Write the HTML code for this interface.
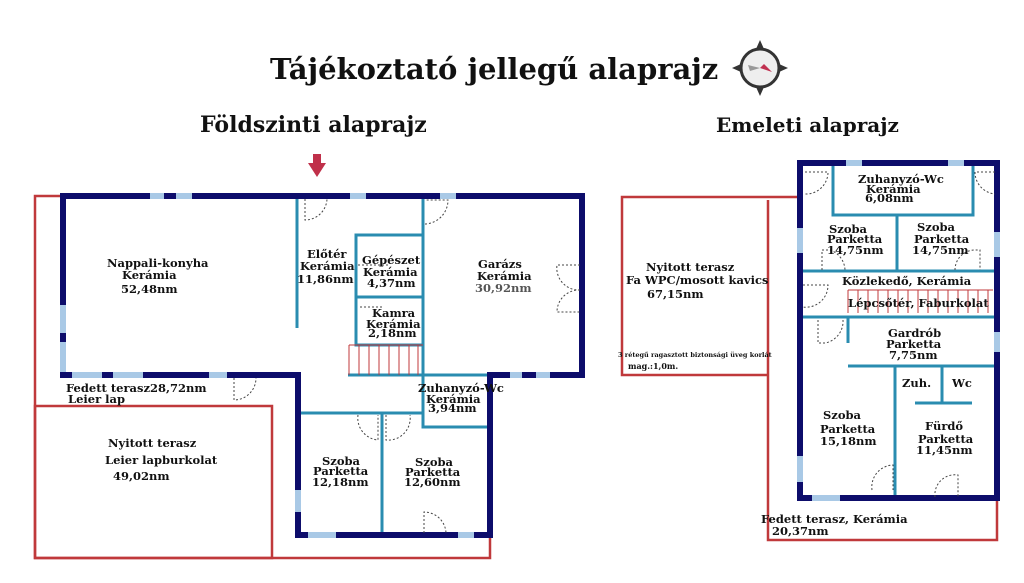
<!DOCTYPE html>
<html><head><meta charset="utf-8"><style>
html,body{margin:0;padding:0;background:#fff;width:1024px;height:583px;overflow:hidden}
svg{display:block}
text{font-family:"DejaVu Serif","Liberation Serif",serif;font-weight:bold;fill:#111}
.l{font-size:11.5px}
</style></head><body>
<svg width="1024" height="583" viewBox="0 0 1024 583" xmlns="http://www.w3.org/2000/svg">
<text x="270" y="79" style="font-size:29px">Tájékoztató jellegű alaprajz</text>
<!-- compass -->
<g transform="translate(760,68)">
<circle r="19" fill="#eee" stroke="#333" stroke-width="3"/>
<path d="M0,-28 L-4,-19 L4,-19Z M0,28 L-4,19 L4,19Z M-28,0 L-19,-4 L-19,4Z M28,0 L19,-4 L19,4Z" fill="#333"/>
<path d="M-12,-3 L0,0 L-10,3Z" fill="#999"/><path d="M12,4 L0,0 L4,-4Z" fill="#c03050"/>
</g>
<text x="200" y="132" style="font-size:22px">Földszinti alaprajz</text>
<text x="716" y="132" style="font-size:20px">Emeleti alaprajz</text>
<!-- entry arrow -->
<path d="M313,154 h8 v9 h5 l-9,14 l-9,-14 h5z" fill="#c0304a"/>

<!-- GROUND red -->
<g fill="none" stroke="#c0393b" stroke-width="2.5">
<path d="M63,196 H35 V558 H490 V535"/>
<rect x="35" y="406" width="237" height="152"/>
</g>
<!-- ground teal -->
<g fill="none" stroke="#2a8cb0" stroke-width="3">
<path d="M297,196 V328"/>
<rect x="356" y="235" width="67" height="62"/>
<rect x="356" y="297" width="67" height="48"/>
<path d="M423,196 V375"/>
<rect x="423" y="375" width="67" height="52"/>
<path d="M298,413 H423 M382,413 V535"/>
<path d="M348,375 H423"/>
</g>
<g stroke="#c0393b" stroke-width="1">
<path d="M349,345 H423 M349,345 V375 M359,345 V375 M369,345 V375 M379,345 V375 M389,345 V375 M399,345 V375 M409,345 V375 M418,345 V375"/>
</g>
<!-- ground navy -->
<g fill="none" stroke="#0d0d6b" stroke-width="6" stroke-linecap="square">
<path d="M63,196 H582 V375 H490 V535 H298 V375 H63 Z"/>
</g>
<g stroke="#a9c9e6" stroke-width="6">
<path d="M150,196 h14 M176,196 h16 M350,196 h16 M440,196 h16 M63,305 v28 M63,342 v30 M72,375 h30 M113,375 h30 M209,375 h18 M298,490 v22 M308,535 h28 M458,535 h16 M510,375 h12 M536,375 h14"/>
</g>
<g fill="none" stroke="#444" stroke-width="1" stroke-dasharray="2,2">
<path d="M305,199 V220 A22,22 0 0 0 327,199"/><path d="M425,224 A24,24 0 0 0 448,200 H425"/>
<path d="M234,378 V400 A22,22 0 0 0 256,378"/><path d="M580,265 h-23 A22,22 0 0 0 580,290 M580,290 A22,22 0 0 0 557,312 h23"/>
<path d="M358,265 h30 M358,330 h-0 M360,307 h24"/>
<path d="M358,415 A22,22 0 0 0 378,440 V415"/><path d="M386,415 V440 A22,22 0 0 0 410,415"/>
<path d="M424,533 V512 A22,22 0 0 1 446,533"/>
</g>

<text class="l" x="107" y="267">Nappali-konyha</text>
<text class="l" x="122" y="279">Kerámia</text>
<text class="l" x="121" y="293">52,48nm</text>
<text class="l" x="307" y="258">Előtér</text>
<text class="l" x="300" y="270">Kerámia</text>
<text class="l" x="297" y="283">11,86nm</text>
<text class="l" x="362" y="264">Gépészet</text>
<text class="l" x="363" y="276">Kerámia</text>
<text class="l" x="367" y="287">4,37nm</text>
<text class="l" x="372" y="317">Kamra</text>
<text class="l" x="366" y="328">Kerámia</text>
<text class="l" x="368" y="337">2,18nm</text>
<text class="l" x="478" y="268">Garázs</text>
<text class="l" x="477" y="280">Kerámia</text>
<text class="l" x="475" y="292" style="fill:#555">30,92nm</text>
<text class="l" x="66" y="392">Fedett terasz28,72nm</text>
<text class="l" x="68" y="403">Leier lap</text>
<text class="l" x="418" y="392">Zuhanyzó-Wc</text>
<text class="l" x="426" y="403">Kerámia</text>
<text class="l" x="428" y="412">3,94nm</text>
<text class="l" x="108" y="447">Nyitott terasz</text>
<text class="l" x="105" y="464">Leier lapburkolat</text>
<text class="l" x="113" y="480">49,02nm</text>
<text class="l" x="322" y="465">Szoba</text>
<text class="l" x="313" y="475">Parketta</text>
<text class="l" x="312" y="486">12,18nm</text>
<text class="l" x="415" y="466">Szoba</text>
<text class="l" x="405" y="476">Parketta</text>
<text class="l" x="404" y="486">12,60nm</text>

<!-- UPPER red -->
<g fill="none" stroke="#c0393b" stroke-width="2.5">
<path d="M800,197 H622 V375 H768"/>
<path d="M768,200 V540 H997 V500"/>
</g>
<g fill="none" stroke="#2a8cb0" stroke-width="3">
<rect x="833" y="163" width="140" height="52"/>
<path d="M897,215 V271 M800,271 H997 M800,317 H997 M848,317 V343 M848,366 H997 M895,366 V496 M942,366 V403 M915,403 H972"/>
</g>
<g stroke="#c0393b" stroke-width="1" fill="none">
<path d="M848,290 H993 M848,290 V313 M858,290 V313 M868,290 V313 M878,290 V313 M888,290 V313 M898,290 V313 M908,290 V313 M918,290 V313 M928,290 V313 M938,290 V313 M948,290 V313 M958,290 V313 M968,290 V313 M978,290 V313 M988,290 V313"/>
</g>
<g fill="none" stroke="#0d0d6b" stroke-width="6" stroke-linecap="square">
<rect x="800" y="163" width="197" height="335"/>
</g>
<g stroke="#a9c9e6" stroke-width="6">
<path d="M846,163 h16 M948,163 h16 M800,228 v25 M997,232 v25 M997,332 v20 M997,436 h0 M800,456 v26 M812,498 h28 M800,288 h0"/>
</g>
<g fill="none" stroke="#444" stroke-width="1" stroke-dasharray="2,2">
<path d="M805,172 H828 A22,22 0 0 1 805,194"/><path d="M995,172 H975 A22,22 0 0 0 995,194"/>
<path d="M822,270 V250 H830 A22,22 0 0 1 845,270"/><path d="M955,270 A20,20 0 0 1 975,250 H980 V270"/>
<path d="M803,285 H828 A22,22 0 0 1 803,307"/>
<path d="M818,320 V343 H825 A22,22 0 0 0 843,320"/>
<path d="M872,490 A22,22 0 0 1 893,465 V490"/><path d="M935,497 A20,20 0 0 1 958,475 V497"/>
</g>
<text class="l" x="858" y="183">Zuhanyzó-Wc</text>
<text class="l" x="866" y="193">Kerámia</text>
<text class="l" x="865" y="202">6,08nm</text>
<text class="l" x="829" y="233">Szoba</text>
<text class="l" x="827" y="243">Parketta</text>
<text class="l" x="827" y="254">14,75nm</text>
<text class="l" x="917" y="231">Szoba</text>
<text class="l" x="914" y="243">Parketta</text>
<text class="l" x="912" y="254">14,75nm</text>
<text class="l" x="842" y="285">Közlekedő, Kerámia</text>
<text class="l" x="848" y="307">Lépcsőtér, Faburkolat</text>
<text class="l" x="888" y="337">Gardrób</text>
<text class="l" x="886" y="348">Parketta</text>
<text class="l" x="889" y="359">7,75nm</text>
<text class="l" x="902" y="387">Zuh.</text>
<text class="l" x="952" y="387">Wc</text>
<text class="l" x="823" y="419">Szoba</text>
<text class="l" x="820" y="433">Parketta</text>
<text class="l" x="820" y="445">15,18nm</text>
<text class="l" x="925" y="430">Fürdő</text>
<text class="l" x="918" y="443">Parketta</text>
<text class="l" x="916" y="454">11,45nm</text>
<text class="l" x="646" y="271">Nyitott terasz</text>
<text class="l" x="626" y="284">Fa WPC/mosott kavics</text>
<text class="l" x="647" y="298">67,15nm</text>
<text x="618" y="357" style="font-size:6.5px">3 rétegű ragasztott biztonsági üveg korlát</text>
<text x="628" y="369" style="font-size:8px">mag.:1,0m.</text>
<text class="l" x="761" y="523">Fedett terasz, Kerámia</text>
<text class="l" x="772" y="535">20,37nm</text>
</svg>
</body></html>
